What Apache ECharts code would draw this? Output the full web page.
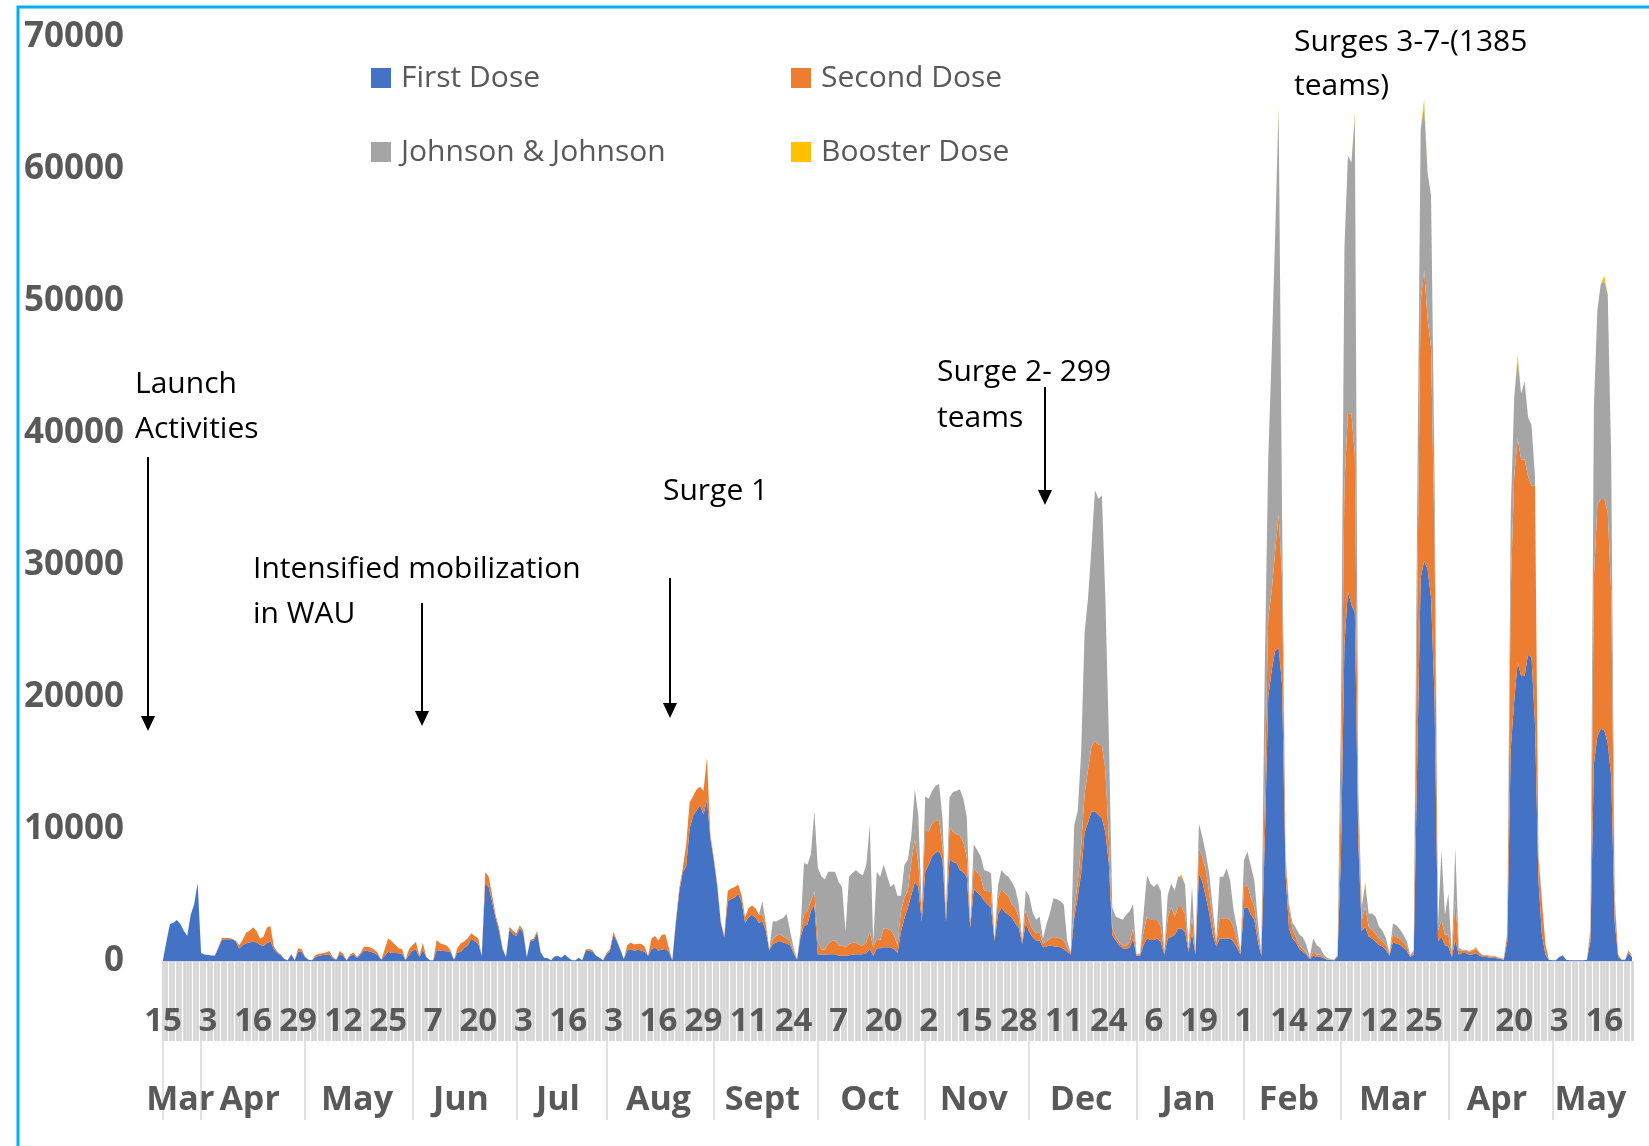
<!DOCTYPE html>
<html>
<head>
<meta charset="utf-8">
<script src="https://cdn.jsdelivr.net/npm/echarts@6/dist/echarts.min.js"></script>
<style>
  html, body { margin: 0; padding: 0; background: #ffffff; }
  #chart { width: 1649px; height: 1146px; }
</style>
</head>
<body>
<div id="chart"></div>
<script>
// Month groups along the category axis (name, number of daily categories)
const monthNames = ['Mar','Apr','May','Jun','Jul','Aug','Sept','Oct','Nov','Dec','Jan','Feb','Mar','Apr','May'];
const monthLengths = [11,30,31,30,26,31,30,31,30,31,31,28,31,30,24];

// Day tick labels shown every 13 categories
const tickLabels = ['15','3','16','29','12','25','7','20','3','16','3','16','29','11','24','7','20','2','15','28','11','24','6','19','1','14','27','12','25','7','20','3','16'];
const tickStep = 13;

// Y axis tick values
const yTicks = [0,10000,20000,30000,40000,50000,60000,70000];

const seriesNames = ['First Dose','Second Dose','Johnson & Johnson','Booster Dose'];

const firstDose = [
/*0*/ 100,1500,2800,2900,3100,2800,2300,1900,3500,4300,
/*10*/ 5900,600,500,450,420,420,1000,1600,1640,1640,
/*20*/ 1640,1500,950,1210,1340,1400,1460,1420,1210,1160,
/*30*/ 1340,1500,900,600,450,150,50,500,50,700,
/*40*/ 700,300,100,50,300,400,450,470,500,200,
/*50*/ 100,550,400,50,400,500,250,500,800,750,
/*60*/ 700,600,450,100,400,700,600,600,580,550,
/*70*/ 80,450,800,880,300,830,300,50,50,830,
/*80*/ 780,760,730,700,100,650,700,1000,1200,1700,
/*90*/ 1500,1300,400,5900,5600,4500,3250,2300,900,300,
/*100*/ 2400,2050,1900,2500,2100,300,1500,1550,2150,650,
/*110*/ 250,200,50,350,380,250,500,250,50,50,
/*120*/ 250,50,760,780,700,400,250,50,500,750,
/*130*/ 2000,1500,850,150,800,900,750,850,800,700,
/*140*/ 400,900,1000,800,880,900,700,50,2800,5200,
/*150*/ 6700,7200,10000,11000,11400,11800,11100,12200,9300,7600,
/*160*/ 5600,2900,1800,4500,4700,4800,5100,4500,2900,3300,
/*170*/ 3500,3300,2900,3000,2300,800,1260,1400,1510,1400,
/*180*/ 1320,1200,600,100,1800,2650,2770,3780,4280,500,
/*190*/ 500,500,520,520,520,390,400,390,440,480,
/*200*/ 520,520,520,600,910,390,960,960,1040,1040,
/*210*/ 1040,910,600,2210,3250,4030,5000,5990,5600,3000,
/*220*/ 6770,7300,7940,8200,8330,7680,3000,7680,7500,7420,
/*230*/ 6900,6700,6380,2500,5470,5200,4950,4560,4300,4030,
/*240*/ 1500,3500,4030,3700,3510,3250,2860,2500,1300,2860,
/*250*/ 2210,1800,1560,1560,1040,1100,1170,1120,1100,1040,
/*260*/ 910,700,500,3250,4820,6640,9760,10500,11320,11320,
/*270*/ 11060,10800,9760,7420,1950,1560,1200,960,910,1040,
/*280*/ 1690,400,400,1200,1710,1590,1590,1700,1460,500,
/*290*/ 1700,1840,1970,2470,2470,2200,700,2100,500,6630,
/*300*/ 6000,4860,3600,2000,1100,1710,1710,1710,1710,1460,
/*310*/ 1000,500,3980,4100,3500,3100,1500,400,9000,20000,
/*320*/ 22000,23500,23700,21000,6600,2500,1700,1400,900,700,
/*330*/ 500,150,400,300,350,200,100,80,50,300,
/*340*/ 8000,24000,28000,27000,26400,9000,2300,2600,1850,1700,
/*350*/ 1460,1210,1100,830,400,1460,1300,1250,1000,800,
/*360*/ 300,500,15000,29000,30300,29700,27500,20000,1500,1840,
/*370*/ 1200,1100,300,1590,500,600,600,500,500,600,
/*380*/ 400,300,300,250,250,200,150,100,1500,16000,
/*390*/ 19700,22600,21600,21600,23200,23000,18000,6100,2000,500,
/*400*/ 100,50,50,300,400,100,50,50,50,50,
/*410*/ 50,100,1500,15000,17000,17600,17500,16500,14000,3000,
/*420*/ 300,100,100,600,300
];

const secondDose = [
/*0*/ 0,0,0,0,0,0,0,0,0,0,
/*10*/ 0,0,0,0,0,0,80,150,100,100,
/*20*/ 50,50,250,400,800,900,1090,850,500,680,
/*30*/ 1200,1150,200,100,50,0,0,50,0,260,
/*40*/ 200,30,0,0,150,150,130,180,250,100,
/*50*/ 0,200,150,0,100,150,50,100,280,330,
/*60*/ 300,250,150,0,500,1000,900,650,380,350,
/*70*/ 0,450,400,580,100,560,0,0,0,770,
/*80*/ 560,490,430,100,0,350,640,500,550,400,
/*90*/ 400,400,0,850,800,500,250,200,100,0,
/*100*/ 200,250,200,200,200,0,100,150,150,50,
/*110*/ 0,0,0,0,0,0,0,0,0,0,
/*120*/ 0,0,120,120,120,0,0,0,100,150,
/*130*/ 200,100,50,0,400,500,500,450,500,400,
/*140*/ 0,800,900,760,1100,1100,300,0,200,300,
/*150*/ 300,1600,2000,1500,1600,1400,1800,3200,200,200,
/*160*/ 200,100,100,800,800,800,700,500,400,700,
/*170*/ 700,700,600,500,450,80,380,500,510,450,
/*180*/ 400,300,150,30,250,880,1010,760,1010,1010,
/*190*/ 380,380,780,1000,1040,780,800,650,860,880,
/*200*/ 910,700,650,830,1300,650,730,600,1430,1400,
/*210*/ 1300,1040,570,1560,1570,1310,2500,3250,1820,600,
/*220*/ 3250,2500,2470,2470,2340,1040,400,2470,2300,2210,
/*230*/ 2600,2300,1560,300,1560,1500,1430,780,1000,1180,
/*240*/ 150,1200,1440,1440,1440,1050,1170,800,200,1040,
/*250*/ 790,600,520,650,260,400,520,700,680,650,
/*260*/ 650,300,100,780,1040,2080,2860,4000,4950,5340,
/*270*/ 5340,5520,4690,1820,520,260,230,210,260,390,
/*280*/ 780,100,100,1000,1640,1510,1510,1400,1140,150,
/*290*/ 1600,2260,1380,1630,1630,1300,200,1250,150,1890,
/*300*/ 1890,2020,1500,1000,300,1520,1520,1520,1390,1140,
/*310*/ 600,150,1640,1650,1300,1000,700,100,4000,6000,
/*320*/ 6000,7500,10100,8000,1000,1500,700,400,300,200,
/*330*/ 150,50,300,200,150,100,50,20,20,100,
/*340*/ 5000,12000,13500,14500,12000,2000,800,1500,750,650,
/*350*/ 630,500,400,370,100,630,500,450,400,300,
/*360*/ 100,200,12000,21000,22000,19000,19000,12000,800,1260,
/*370*/ 800,900,100,3010,300,200,200,200,250,300,
/*380*/ 200,100,100,100,100,80,50,50,500,12000,
/*390*/ 17000,17000,16400,16400,13500,13000,18000,1700,2500,800,
/*400*/ 0,0,0,0,50,0,0,0,0,0,
/*410*/ 0,0,700,14000,17500,17400,17500,17500,14000,1500,
/*420*/ 200,0,0,200,100
];

const johnsonJohnson = [
/*0*/ 0,0,0,0,0,0,0,0,0,0,
/*10*/ 0,0,0,0,0,0,0,0,0,0,
/*20*/ 0,0,0,0,0,0,0,0,0,0,
/*30*/ 0,0,0,0,0,0,0,0,0,0,
/*40*/ 0,0,0,0,0,0,0,0,0,0,
/*50*/ 0,0,0,0,0,0,0,0,0,0,
/*60*/ 0,0,0,0,0,0,0,0,0,0,
/*70*/ 0,0,0,0,0,0,0,0,0,0,
/*80*/ 0,0,0,0,0,0,0,0,0,0,
/*90*/ 0,0,0,0,0,0,0,0,0,0,
/*100*/ 0,0,0,0,0,0,0,0,0,0,
/*110*/ 0,0,0,0,0,0,0,0,0,0,
/*120*/ 0,0,0,0,0,0,0,0,0,0,
/*130*/ 0,0,0,0,0,0,0,0,0,0,
/*140*/ 0,0,0,0,0,0,0,0,0,0,
/*150*/ 0,0,0,0,0,0,0,0,0,0,
/*160*/ 0,0,0,0,0,0,0,0,0,0,
/*170*/ 0,0,0,1000,150,0,1380,1100,1130,1400,
/*180*/ 1860,800,300,0,200,3900,3530,3520,6050,5550,
/*190*/ 5550,5300,5470,5250,5210,4820,4400,1170,5080,5300,
/*200*/ 5470,5400,5330,5860,8070,390,5080,4820,4820,4000,
/*210*/ 3260,3910,3780,1180,2470,2340,2000,3770,3640,430,
/*220*/ 2470,2500,2470,2600,2730,2080,370,2210,3000,3250,
/*230*/ 3510,3300,2990,190,1820,1700,1560,1560,1500,1430,
/*240*/ 40,1000,1430,1430,1430,1690,1440,1000,60,1440,
/*250*/ 1950,1300,1040,1170,390,1300,1950,2940,2900,2860,
/*260*/ 2740,500,50,6250,5460,7030,12240,13000,15100,19000,
/*270*/ 18610,18950,13010,7810,1560,1560,1800,1950,2340,2340,
/*280*/ 1830,20,80,1300,3150,2770,2500,2770,2750,50,
/*290*/ 1700,1770,2000,2280,2280,2300,60,2270,50,1880,
/*300*/ 1510,1260,1500,1000,190,3150,3150,3770,3020,1260,
/*310*/ 900,50,2020,2520,2400,2020,800,80,9000,12000,
/*320*/ 18000,24000,30800,5000,500,300,500,700,800,900,
/*330*/ 600,100,1000,700,500,200,100,50,30,50,
/*340*/ 6000,18000,19500,19000,25500,2000,1000,1770,1000,1250,
/*350*/ 1260,890,800,500,80,760,900,700,600,400,
/*360*/ 50,100,8000,13000,12500,11000,11500,5000,500,5290,
/*370*/ 1500,3100,100,4000,200,50,50,50,100,100,
/*380*/ 50,50,50,50,50,40,30,20,200,6000,
/*390*/ 6000,6000,5000,5900,4500,4600,700,300,300,0,
/*400*/ 0,0,0,0,0,0,0,0,0,0,
/*410*/ 0,0,300,13000,14800,16300,16500,16500,10000,500,
/*420*/ 0,0,0,0,0
];

const boosterDose = [
/*0*/ 0,0,0,0,0,0,0,0,0,0,0,0,0,0,0,0,0,0,0,0,
/*20*/ 0,0,0,0,0,0,0,0,0,0,0,0,0,0,0,0,0,0,0,0,
/*40*/ 0,0,0,0,0,0,0,0,0,0,0,0,0,0,0,0,0,0,0,0,
/*60*/ 0,0,0,0,0,0,0,0,0,0,0,0,0,0,0,0,0,0,0,0,
/*80*/ 0,0,0,0,0,0,0,0,0,0,0,0,0,0,0,0,0,0,0,0,
/*100*/ 0,0,0,0,0,0,0,0,0,0,0,0,0,0,0,0,0,0,0,0,
/*120*/ 0,0,0,0,0,0,0,0,0,0,0,0,0,0,0,0,0,0,0,0,
/*140*/ 0,0,0,0,0,0,0,0,0,0,0,0,0,0,0,0,0,0,0,0,
/*160*/ 0,0,0,0,0,0,0,0,0,0,0,0,0,0,0,0,0,0,0,0,
/*180*/ 0,0,0,0,0,0,0,0,0,0,0,0,0,0,0,0,0,0,0,0,
/*200*/ 0,0,0,0,0,0,0,0,0,0,0,0,0,0,0,0,0,0,0,0,
/*220*/ 0,0,0,0,0,0,0,0,0,0,0,0,0,0,0,0,0,0,0,0,
/*240*/ 0,0,0,0,0,0,0,0,0,0,0,0,0,0,0,0,0,0,0,0,
/*260*/ 0,0,0,0,0,0,0,0,0,0,0,0,0,0,0,0,0,0,0,0,
/*280*/ 0,0,0,0,0,0,0,0,0,0,0,0,0,0,150,0,0,0,0,0,
/*300*/ 0,0,0,0,0,0,0,0,0,0,0,0,0,0,0,0,0,0,0,0,
/*320*/ 0,0,300,0,0,0,0,0,0,0,0,0,0,0,0,0,0,0,0,0,
/*340*/ 0,0,0,0,300,0,0,150,0,0,0,0,0,0,0,0,0,0,0,0,
/*360*/ 0,0,0,0,500,0,0,0,0,0,0,0,0,0,0,0,0,0,0,80,
/*380*/ 0,0,0,0,0,0,0,0,0,0,0,300,0,0,0,0,0,0,0,0,
/*400*/ 0,0,0,0,0,0,0,0,0,0,0,0,0,0,0,0,400,0,0,0,
/*420*/ 0,0,0,0,0
];

// Build category list (one per day) from month groups
const categories = [];
const monthStarts = [];
const monthCenters = [];
const monthOfIndex = [];
monthNames.forEach((m, k) => {
  const start = categories.length;
  monthStarts.push(start);
  monthCenters.push(Math.floor(start + (monthLengths[k] - 1) / 2));
  for (let d = 0; d < monthLengths[k]; d++) {
    categories.push(m + '-' + k + '-' + d);
    monthOfIndex.push(m);
  }
});

const colors = ['#4472C4', '#ED7D31', '#A5A5A5', '#FFC000'];
const dataSets = [firstDose, secondDose, johnsonJohnson, boosterDose];

const chart = echarts.init(document.getElementById('chart'), null, { renderer: 'canvas' });

const FONT = '"Open Sans", "DejaVu Sans", sans-serif';

function arrow(x, y1, y2) {
  return [
    { type: 'line', shape: { x1: x, y1: y1, x2: x, y2: y2 - 12 }, style: { stroke: '#000', lineWidth: 2 } },
    { type: 'polygon', shape: { points: [[x - 7, y2 - 15], [x + 7, y2 - 15], [x, y2]] }, style: { fill: '#000' } }
  ];
}
function label(text, x, y) {
  return { type: 'text', x: x, y: y, style: { text: text, font: '30px ' + FONT, fill: '#000', verticalAlign: 'middle', align: 'left' } };
}

const legendCommon = {
  icon: 'rect', itemWidth: 20, itemHeight: 20, padding: 0, selectedMode: false,
  textStyle: { fontSize: 30, color: '#595959', fontFamily: FONT, lineHeight: 30, padding: [0, 0, 0, 5] }
};

const option = {
  animation: false,
  backgroundColor: '#ffffff',
  color: colors,
  textStyle: { fontFamily: FONT },
  legend: [
    Object.assign({ data: [seriesNames[0]], left: 371, top: 63 }, legendCommon),
    Object.assign({ data: [seriesNames[1]], left: 791, top: 63 }, legendCommon),
    Object.assign({ data: [seriesNames[2]], left: 371, top: 137 }, legendCommon),
    Object.assign({ data: [seriesNames[3]], left: 791, top: 137 }, legendCommon)
  ],
  grid: { left: 163, right: 17, top: 37, bottom: 185, containLabel: false },
  xAxis: [
    {
      type: 'category',
      data: categories,
      boundaryGap: false,
      position: 'bottom',
      axisLine: { show: true, lineStyle: { color: '#d9d9d9', width: 1 } },
      axisTick: { show: true, interval: 0, length: 80, lineStyle: { color: '#d4d4d4', width: 2.6 } },
      axisLabel: {
        interval: tickStep - 1,
        margin: 44,
        fontSize: 33, fontWeight: 'bold', color: '#595959', fontFamily: FONT,
        formatter: function (value, index) { return tickLabels[Math.round(index / tickStep)] || ''; }
      },
      splitLine: { show: false }
    },
    {
      type: 'category',
      data: categories,
      boundaryGap: false,
      position: 'bottom',
      axisLine: { show: false },
      axisTick: {
        show: true,
        interval: function (index) { return monthStarts.indexOf(index) >= 0; },
        length: 159,
        lineStyle: { color: '#d9d9d9', width: 1.5 }
      },
      axisLabel: {
        interval: function (index) { return monthCenters.indexOf(index) >= 0; },
        margin: 122,
        fontSize: 34, fontWeight: 'bold', color: '#595959', fontFamily: FONT,
        formatter: function (value, index) { return monthOfIndex[index]; }
      },
      splitLine: { show: false }
    }
  ],
  yAxis: {
    type: 'value',
    min: yTicks[0],
    max: yTicks[yTicks.length - 1],
    interval: yTicks[1] - yTicks[0],
    axisLine: { show: false },
    axisTick: { show: false },
    splitLine: { show: false },
    axisLabel: {
      margin: 39, fontSize: 35, fontWeight: 'bold', color: '#595959', fontFamily: FONT,
      formatter: function (v) { return String(v); }
    }
  },
  series: dataSets.map(function (arr, k) {
    return {
      name: seriesNames[k],
      type: 'line',
      stack: 'doses',
      xAxisIndex: 0,
      data: arr,
      symbol: 'none',
      showSymbol: false,
      smooth: false,
      lineStyle: { width: 0 },
      areaStyle: { color: colors[k], opacity: 1 },
      itemStyle: { color: colors[k] },
      emphasis: { disabled: true }
    };
  }),
  graphic: [
    { type: 'rect', shape: { x: 18, y: 7, width: 1700, height: 1250 }, style: { fill: 'transparent', stroke: '#00B0F0', lineWidth: 3 }, silent: true },
    label('Launch', 135, 384),
    label('Activities', 135, 429),
    label('Intensified mobilization', 253, 569),
    label('in WAU', 253, 614),
    label('Surge 1', 663, 491),
    label('Surge 2- 299', 937, 372),
    label('teams', 937, 418),
    label('Surges 3-7-(1385', 1294, 42),
    label('teams)', 1294, 86)
  ].concat(arrow(148, 457, 731))
   .concat(arrow(422, 603, 726))
   .concat(arrow(670, 578, 718))
   .concat(arrow(1045, 387, 505))
};

chart.setOption(option);
</script>
</body>
</html>
